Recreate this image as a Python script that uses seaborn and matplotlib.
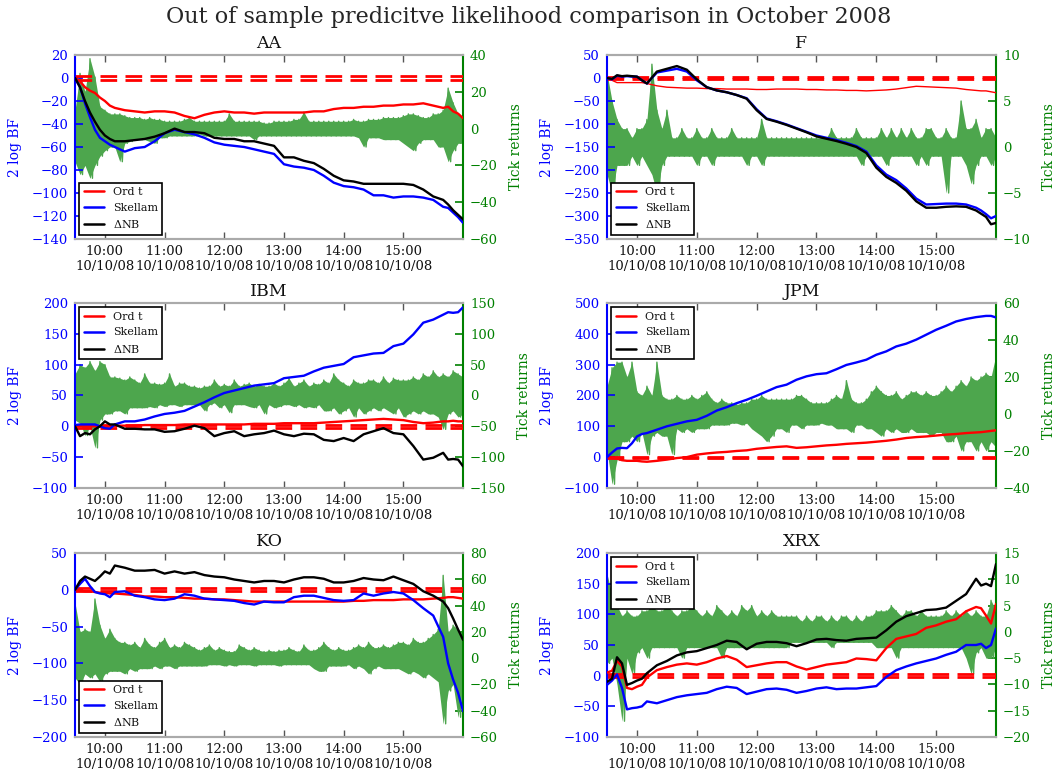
import numpy as np
import pandas as pd
import matplotlib
matplotlib.use("Agg")
import matplotlib.pyplot as plt
import matplotlib.dates as mdates
from matplotlib.lines import Line2D
import seaborn as sns

sns.set_theme(style="white", color_codes=False)
plt.rcParams["font.family"] = ["DejaVu Serif"]
plt.rcParams["mathtext.fontset"] = "dejavuserif"
plt.rcParams["axes.unicode_minus"] = True

DAY = "2008-10-10 "
RED, BLUE, BLACK, GREEN, RET_GREEN = "#ff0000", "#0000ff", "#000000", "#008000", "#4da64d"

# ---------------- time grids ----------------
bf_times = ["09:30", "09:35", "09:40", "09:45", "09:50", "09:55", "10:00", "10:05", "10:10",
            "10:20", "10:30", "10:40", "10:50", "11:00", "11:10", "11:20", "11:30", "11:40", "11:50",
            "12:00", "12:10", "12:20", "12:30", "12:40", "12:50", "13:00", "13:10", "13:20", "13:30",
            "13:40", "13:50", "14:00", "14:10", "14:20", "14:30", "14:40", "14:50", "15:00", "15:10",
            "15:20", "15:30", "15:40",
            "15:45", "15:50", "15:55", "16:00"]
ret_start, ret_end, ret_step = "09:30", "16:00", "5min"

# ---------------- AA ----------------
AA_ord = [0, -3, -8, -11, -13, -17, -20, -24, -26,
          -28, -29, -30, -29, -29, -30, -33, -35, -32, -30,
          -29, -30, -30, -31, -30, -30, -30, -30, -30, -29,
          -29, -27, -26, -26, -25, -25, -24, -24, -23, -23,
          -22, -24, -26,
          -25, -29, -31, -35]
AA_sk = [0, -8, -22, -34, -45, -52, -55, -58, -60,
         -64, -61, -60, -55, -48, -45, -47, -49, -52, -56,
         -58, -59, -60, -62, -64, -66, -75, -77, -78, -80,
         -85, -91, -94, -95, -97, -102, -102, -104, -103, -103,
         -104, -106, -112,
         -113, -117, -121, -126]
AA_nb = [0, -8, -20, -30, -38, -45, -50, -53, -55,
         -55, -54, -53, -51, -48, -44, -47, -47, -48, -52,
         -53, -53, -55, -55, -57, -59, -69, -69, -72, -74,
         -79, -85, -89, -90, -92, -92, -92, -92, -92, -93,
         -97, -103, -106,
         -110, -115, -119, -123]
AA_hi = [10, 30, 20, 38, 28, 12, 10, 8, 8, 8, 7, 6,
         6, 6, 5, 6, 5, 5, 4, 4, 4, 4, 5, 6,
         4, 4, 4, 4, 4, 4, 4, 8, 4, 4, 4, 4,
         4, 4, 3, 3, 4, 4, 4, 4, 5, 5, 9, 4,
         4, 4, 4, 4, 4, 4, 4, 4, 5, 4, 4, 5,
         5, 5, 6, 6, 6, 6, 7, 8, 8, 7, 6, 6,
         8, 8, 10, 22, 14, 8, 6]
AA_lo = [-18, -25, -20, -27, -20, -15, -12, -10, -10, -18, -8, -7,
         -6, -6, -6, -7, -8, -5, -5, -4, -4, -4, -4, -4,
         -4, -3, -4, -4, -4, -4, -4, -4, -4, -4, -4, -4,
         -6, -4, -4, -4, -4, -4, -4, -4, -4, -4, -4, -4,
         -4, -4, -4, -4, -4, -4, -4, -4, -4, -5, -10, -5,
         -5, -5, -6, -6, -6, -6, -8, -10, -12, -8, -6, -6,
         -6, -10, -10, -18, -12, -8, -8]

# ---------------- F ----------------
F_ord = [0, -5, -10, -10, -10, -10, -10, -10, -12,
         -17, -20, -21, -22, -22, -23, -23, -24, -24, -24,
         -25, -25, -24, -24, -24, -25, -25, -26, -26, -27,
         -27, -28, -27, -26, -24, -21, -18, -19, -20, -21,
         -22, -25, -27,
         -28, -28, -30, -32]
F_sk = [0, -3, 5, 3, 4, 3, 3, -5, -12,
        12, 16, 20, 14, -5, -20, -27, -31, -37, -44,
        -68, -88, -94, -101, -109, -117, -125, -130, -135, -141,
        -148, -160, -190, -210, -222, -240, -262, -275, -274, -273,
        -273, -275, -282,
        -288, -296, -305, -300]
F_nb = [0, -2, 6, 4, 5, 4, 3, -5, -12,
        14, 20, 26, 18, -3, -20, -27, -31, -37, -45,
        -70, -89, -95, -102, -110, -118, -127, -132, -137, -143,
        -150, -163, -195, -215, -228, -245, -268, -282, -282, -280,
        -279, -280, -288,
        -295, -302, -318, -315]
F_hi = [8, 5, 3, 2, 2, 1, 2, 2, 3, 9, 4, 2,
        4, 1, 1, 2, 1, 1, 2, 1, 1, 2, 1, 1,
        1, 2, 1, 1, 1, 1, 1, 3, 1, 1, 1, 1,
        1, 1, 1, 1, 1, 1, 1, 1, 1, 2, 1, 1,
        1, 1, 2, 1, 1, 1, 1, 2, 1, 2, 1, 2,
        1, 2, 1, 1, 2, 2, 1, 1, 2, 1, 1, 5,
        2, 2, 3, 1, 2, 2, 1]
F_lo = [-3, -5, -2, -2, -2, -1, -2, -1, -2, -3, -5, -2,
        -1, -1, -1, -1, -1, -1, -2, -1, -1, -2, -1, -1,
        -1, -1, -1, -1, -2, -1, -1, -2, -1, -1, -1, -1,
        -1, -1, -1, -1, -1, -1, -1, -1, -1, -1, -1, -1,
        -1, -1, -1, -2, -1, -1, -1, -1, -2, -1, -1, -1,
        -1, -1, -2, -1, -2, -1, -1, -1, -5, -1, -1, -1,
        -2, -4, -2, -1, -1, -2, -1]

# ---------------- IBM ----------------
IBM_ord = [0, 0, 0, 0, 0, 0, 0, 1, 1,
           1, 1, 2, 2, 2, 2, 3, 3, 3, 3,
           3, 3, 3, 4, 4, 4, 5, 5, 5, 5,
           6, 7, 8, 9, 10, 11, 12, 11, 10, 7,
           5, 6, 8,
           8, 9, 8, 8]
IBM_sk = [2, 3, 3, 3, 3, 0, -3, -4, 3,
          8, 8, 11, 16, 20, 22, 25, 32, 39, 47,
          54, 58, 62, 66, 68, 70, 78, 80, 82, 89,
          95, 98, 101, 112, 115, 118, 119, 130, 134, 149,
          168, 173, 181,
          185, 184, 185, 193]
IBM_nb = [0, -16, -11, -13, -5, 0, 8, 3, 3,
          -4, -4, -5, -5, -9, -8, -4, 1, -3, -16,
          -11, -8, -16, -13, -11, -7, -13, -16, -12, -13,
          -22, -24, -19, -24, -13, -8, -3, -11, -13, -32,
          -54, -51, -43,
          -54, -53, -54, -65]
IBM_hi = [35, 50, 45, 55, 40, 55, 50, 30, 30, 28, 25, 30,
          25, 20, 35, 20, 20, 18, 20, 35, 15, 20, 20, 15,
          15, 12, 15, 15, 25, 15, 18, 15, 25, 15, 18, 20,
          15, 18, 15, 15, 20, 15, 20, 28, 15, 20, 25, 15,
          20, 18, 25, 20, 35, 25, 20, 15, 25, 20, 20, 25,
          25, 20, 30, 20, 28, 25, 25, 25, 30, 25, 35, 30,
          40, 30, 35, 30, 40, 35, 30]
IBM_lo = [-40, -45, -65, -50, -85, -40, -30, -30, -25, -25, -30, -20,
          -20, -20, -20, -18, -20, -15, -18, -15, -15, -18, -15, -15,
          -15, -15, -25, -15, -12, -20, -15, -28, -15, -15, -15, -18,
          -20, -15, -30, -15, -20, -18, -15, -15, -18, -15, -20, -18,
          -20, -15, -25, -25, -20, -30, -25, -20, -35, -20, -30, -25,
          -20, -25, -20, -25, -30, -20, -35, -30, -25, -30, -25, -30,
          -30, -35, -55, -30, -25, -35, -30]

# ---------------- JPM ----------------
JPM_ord = [0, -2, -5, -10, -12, -12, -12, -14, -15,
           -12, -8, -3, 0, 8, 12, 15, 17, 20, 22,
           27, 30, 33, 35, 30, 32, 35, 38, 40, 43,
           45, 47, 50, 53, 57, 62, 65, 67, 70, 73,
           75, 78, 80,
           81, 83, 85, 87]
JPM_sk = [0, 15, 28, 30, 29, 45, 67, 75, 78,
          89, 100, 108, 116, 121, 134, 151, 162, 175, 186,
          199, 213, 227, 235, 251, 262, 269, 272, 285, 299,
          307, 316, 332, 343, 359, 368, 381, 397, 413, 426,
          440, 448, 454,
          456, 458, 458, 453]
JPM_nb = []  # not visible in the reference panel
JPM_hi = [15, 25, 28, 28, 20, 28, 12, 10, 15, 10, 28, 10,
          8, 8, 10, 8, 8, 10, 8, 10, 12, 8, 6, 8,
          6, 6, 5, 6, 6, 8, 8, 10, 8, 8, 8, 8,
          8, 8, 10, 10, 8, 6, 6, 6, 6, 8, 10, 8,
          18, 8, 6, 6, 8, 12, 15, 12, 10, 10, 12, 8,
          10, 12, 12, 10, 12, 10, 10, 12, 15, 12, 15, 18,
          15, 20, 18, 20, 22, 20, 32]
JPM_lo = [-20, -38, -25, -15, -15, -12, -15, -10, -22, -12, -10, -12,
          -12, -22, -8, -10, -8, -10, -8, -8, -8, -6, -6, -6,
          -6, -5, -5, -6, -5, -8, -10, -12, -15, -12, -8, -8,
          -10, -6, -6, -8, -6, -6, -6, -5, -6, -6, -8, -8,
          -8, -10, -6, -6, -8, -8, -10, -12, -8, -10, -8, -10,
          -10, -8, -10, -10, -10, -12, -10, -10, -15, -15, -12, -20,
          -15, -15, -20, -15, -20, -15, -18]

# ---------------- KO ----------------
KO_ord = [0, -1, -2, -2, -3, -4, -4, -5, -5,
          -6, -7, -9, -9, -10, -10, -11, -12, -12, -13,
          -13, -14, -15, -16, -16, -16, -16, -16, -16, -16,
          -16, -16, -16, -15, -15, -14, -14, -14, -13, -13,
          -13, -12, -11,
          -10, -10, -11, -12]
KO_sk = [0, 8, 15, 5, -3, -5, -6, -10, -3,
         -2, -8, -10, -13, -14, -12, -6, -8, -12, -13,
         -14, -15, -18, -20, -16, -17, -17, -10, -8, -8,
         -11, -14, -15, -14, -5, -8, -5, -3, -5, -14,
         -25, -35, -64,
         -100, -122, -140, -165]
KO_nb = [0, 12, 18, 15, 12, 18, 25, 22, 33,
         30, 26, 26, 27, 22, 25, 22, 24, 20, 18,
         17, 14, 12, 10, 12, 12, 10, 14, 17, 17,
         15, 10, 10, 12, 16, 14, 13, 18, 13, 8,
         -2, -8, -16,
         -25, -39, -54, -68]
KO_hi = [42, 20, 22, 20, 45, 25, 15, 22, 15, 12, 12, 10,
         12, 8, 15, 10, 8, 12, 15, 8, 10, 8, 12, 10,
         8, 6, 8, 10, 6, 8, 6, 5, 5, 10, 8, 6,
         8, 6, 5, 6, 5, 6, 6, 8, 6, 5, 10, 6,
         6, 8, 12, 8, 6, 8, 6, 6, 8, 10, 8, 12,
         8, 8, 10, 8, 10, 12, 12, 10, 15, 12, 12, 15,
         18, 22, 63, 20, 25, 22, 18]
KO_lo = [-15, -20, -12, -15, -12, -18, -12, -10, -10, -10, -12, -8,
         -10, -8, -8, -8, -6, -8, -6, -6, -8, -6, -6, -6,
         -6, -6, -6, -5, -5, -5, -6, -5, -6, -5, -5, -5,
         -6, -5, -5, -5, -5, -6, -5, -5, -5, -5, -5, -5,
         -8, -10, -10, -6, -6, -6, -6, -5, -8, -6, -8, -12,
         -8, -6, -8, -8, -8, -8, -10, -12, -10, -12, -15, -12,
         -15, -18, -50, -25, -20, -45, -20]

# ---------------- XRX ----------------
XRX_ord = [5, 8, 24, 15, -20, -22, -18, -15, -3,
           9, 14, 18, 20, 18, 22, 28, 32, 26, 14,
           17, 20, 22, 22, 15, 10, 14, 18, 20, 22,
           28, 27, 25, 45, 60, 64, 68, 78, 82, 88,
           92, 105, 112,
           110, 98, 85, 117]
XRX_sk = [-15, -8, 2, -20, -55, -53, -52, -50, -42,
          -45, -40, -35, -32, -30, -28, -22, -18, -20, -30,
          -26, -22, -21, -23, -28, -25, -21, -19, -22, -21,
          -21, -19, -17, -2, 9, 15, 20, 24, 28, 34,
          39, 50, 50,
          52, 45, 50, 77]
XRX_nb = [-10, -5, 30, 20, -15, -12, -8, -5, 4,
          17, 24, 33, 38, 40, 45, 50, 57, 55, 43,
          52, 55, 55, 53, 48, 53, 59, 60, 58, 57,
          60, 61, 62, 74, 88, 97, 102, 107, 108, 111,
          122, 133, 158,
          147, 150, 146, 182]
XRX_hi = [11, 7, 5, 3, 4, 3, 3, 4, 4, 5, 4, 4,
          5, 4, 3, 4, 4, 5, 4, 3, 4, 3, 5, 4,
          3, 4, 3, 5, 4, 5, 3, 4, 3, 4, 3, 3,
          3, 3, 3, 2, 3, 2, 3, 3, 2, 3, 2, 3,
          3, 2, 3, 2, 3, 3, 4, 4, 4, 5, 4, 3,
          4, 4, 3, 4, 3, 3, 3, 3, 4, 3, 4, 3,
          4, 3, 4, 3, 3, 6, 4]
XRX_lo = [-6, -5, -10, -17, -5, -8, -4, -3, -5, -3, -3, -3,
          -3, -3, -3, -5, -3, -3, -3, -3, -3, -3, -3, -5,
          -3, -3, -3, -3, -3, -3, -3, -3, -3, -3, -3, -3,
          -3, -2, -2, -2, -2, -2, -2, -2, -2, -3, -2, -2,
          -2, -2, -2, -2, -2, -2, -3, -3, -3, -3, -5, -3,
          -3, -3, -3, -3, -3, -3, -3, -3, -3, -3, -3, -3,
          -5, -8, -4, -3, -5, -5, -3]

series_labels = ["Ord t", "Skellam", r"$\Delta$NB"]
threshold = [2, -2]

panels = [
    ("AA", AA_ord, AA_sk, AA_nb, AA_hi, AA_lo, (-140, 20), 20, (-60, 40), 20, "lower left"),
    ("F", F_ord, F_sk, F_nb, F_hi, F_lo, (-350, 50), 50, (-10, 10), 5, "lower left"),
    ("IBM", IBM_ord, IBM_sk, IBM_nb, IBM_hi, IBM_lo, (-100, 200), 50, (-150, 150), 50, "upper left"),
    ("JPM", JPM_ord, JPM_sk, JPM_nb, JPM_hi, JPM_lo, (-100, 500), 100, (-40, 60), 20, "upper left"),
    ("KO", KO_ord, KO_sk, KO_nb, KO_hi, KO_lo, (-200, 50), 50, (-60, 80), 20, "lower left"),
    ("XRX", XRX_ord, XRX_sk, XRX_nb, XRX_hi, XRX_lo, (-100, 200), 50, (-20, 15), 5, "upper left"),
]

positions = [
    [0.0710, 0.6928, 0.3671, 0.2365], [0.5743, 0.6928, 0.3680, 0.2365],
    [0.0710, 0.3728, 0.3671, 0.2378], [0.5743, 0.3728, 0.3680, 0.2378],
    [0.0710, 0.0527, 0.3671, 0.2365], [0.5743, 0.0527, 0.3680, 0.2365],
]

t_bf = pd.to_datetime([DAY + s for s in bf_times])
t_ret = pd.date_range(DAY + ret_start, DAY + ret_end, freq=ret_step)
half = pd.Timedelta(seconds=150)
zig_t = np.empty(2 * len(t_ret), dtype="datetime64[ns]")
zig_t[0::2] = t_ret.values
zig_t[1::2] = (t_ret + half).values

fig = plt.figure(figsize=(10.57, 7.78), dpi=100)
fig.text(0.5, 0.978, "Out of sample predicitve likelihood comparison in October 2008",
         ha="center", va="center", fontsize=16)

grey = "#aaaaaa"
for pos, (name, s_ord, s_sk, s_nb, hi, lo, ylim, ystep, rlim, rstep, loc) in zip(positions, panels):
    ax = fig.add_axes(pos)
    ax2 = ax.twinx()
    # tick returns: envelope band plus zig-zag through the read highs and lows
    ax2.fill_between(t_ret, lo, hi, color=RET_GREEN, lw=0)
    zig_y = np.empty(2 * len(hi))
    zig_y[0::2] = hi
    zig_y[1::2] = lo
    sns.lineplot(x=zig_t, y=zig_y, ax=ax2, color=RET_GREEN, lw=1.0,
                 sort=False, estimator=None)
    for th in threshold:
        ax.axhline(th, color=RED, lw=2.0, ls=(0, (6, 3)), zorder=1)
    sns.lineplot(x=t_bf, y=s_ord, ax=ax, color=RED, lw=1.0 if name == "F" else 1.7, zorder=3)
    sns.lineplot(x=t_bf, y=s_sk, ax=ax, color=BLUE, lw=1.7, zorder=3)
    if len(s_nb):
        sns.lineplot(x=t_bf, y=s_nb, ax=ax, color=BLACK, lw=1.7, zorder=3)

    ax.set_zorder(ax2.get_zorder() + 1)
    ax.patch.set_visible(False)

    ax.set_xlim(pd.Timestamp(DAY + "09:30"), pd.Timestamp(DAY + "16:00"))
    ax.set_ylim(*ylim)
    ax.set_yticks(np.arange(ylim[0], ylim[1] + 0.1, ystep))
    ax2.set_ylim(*rlim)
    ax2.set_yticks(np.arange(rlim[0], rlim[1] + 0.1, rstep))
    ax.xaxis.set_major_locator(mdates.HourLocator(byhour=range(10, 16)))
    ax.xaxis.set_major_formatter(mdates.DateFormatter("%H:%M\n%m/%d/%y"))

    ax.tick_params(axis="x", direction="in", top=True, bottom=True, length=5, width=1,
                   color="#555555", labelsize=9.5, pad=4, labelcolor="#111111")
    ax.tick_params(axis="y", direction="in", left=True, length=6, width=1.2, colors=BLUE,
                   labelsize=9.5, pad=5)
    ax2.tick_params(axis="y", direction="in", right=True, length=6, width=1.2, colors=GREEN,
                    labelsize=9.5, pad=5)
    ax.set_xlabel("")
    ax2.set_xlabel("")
    ax.set_ylabel("2 log BF", color=BLUE, fontsize=10, labelpad=7)
    ax2.set_ylabel("Tick returns", color=GREEN, fontsize=10, labelpad=8)
    ax.set_title(name, fontsize=12.5, pad=5, color="#111111")

    for a in (ax, ax2):
        for sp in ("top", "bottom"):
            a.spines[sp].set_color(grey)
            a.spines[sp].set_linewidth(1.5)
    ax.spines["left"].set_color(BLUE)
    ax.spines["left"].set_linewidth(1.5)
    ax.spines["right"].set_visible(False)
    ax2.spines["right"].set_color(GREEN)
    ax2.spines["right"].set_linewidth(1.5)
    ax2.spines["left"].set_visible(False)

    handles = [Line2D([], [], color=c, lw=1.8) for c in (RED, BLUE, BLACK)]
    leg = ax.legend(handles, series_labels, loc=loc, fontsize=8, frameon=True, fancybox=False,
                    framealpha=1, edgecolor="k", borderaxespad=0.4, handlelength=1.8,
                    handletextpad=0.8, labelspacing=0.5)
    leg.get_frame().set_linewidth(1.2)
    for txt in leg.get_texts():
        txt.set_color("#111111")

fig.savefig("out.png", dpi=100)
